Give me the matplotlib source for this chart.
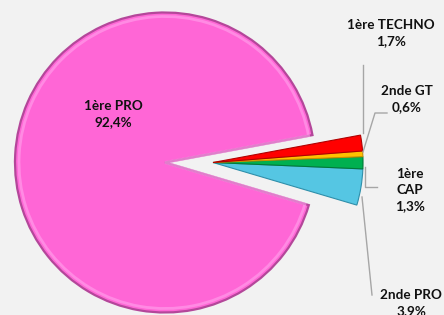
import matplotlib
matplotlib.use("Agg")
import matplotlib.pyplot as plt

categories = ["2nde PRO", "1ère CAP", "2nde GT", "1ère TECHNO", "1ère PRO"]
values = [3.9, 1.3, 0.6, 1.7, 92.4]
labels = ["2nde PRO\n3,9%", "1ère\nCAP\n1,3%", "2nde GT\n0,6%", "1ère TECHNO\n1,7%", "1ère PRO\n92,4%"]
colors = ["#55C6E3", "#00B050", "#FFC000", "#FF0000", "#FF66D6"]
edge_dark = ["#2F8FAA", "#007A38", "#C79000", "#B00000", "#B4479A"]

W, H = 444, 315
fig = plt.figure(figsize=(W / 100, H / 100), dpi=100)
fig.patch.set_facecolor("#F2F2F2")
ax = fig.add_axes([0, 0, 1, 1])

cx, cy, r = 165, 152.5, 150
shift = 48
wedges, _ = ax.pie(values, colors=colors, startangle=-16.5, counterclock=True,
                   radius=r, center=(cx, cy), frame=True,
                   wedgeprops=dict(edgecolor="white", linewidth=1.2))
# bevel highlight on the large slice
hl, _ = ax.pie(values, colors=["none"] * 5, startangle=-16.5, counterclock=True,
               radius=r - 4, center=(cx, cy), frame=True,
               wedgeprops=dict(linewidth=2.0, fill=False))
for i in range(4):
    hl[i].set_visible(False)
    wedges[i].set_center((cx + shift, cy))
    wedges[i].set_edgecolor(edge_dark[i])
    wedges[i].set_linewidth(0.8)
hl[4].set_edgecolor("#FFA3EC")
hl[4].set_alpha(0.6)
wedges[4].set_edgecolor(edge_dark[4])
wedges[4].set_linewidth(1.6)

ax.set_xlim(0, W)
ax.set_ylim(0, H)
ax.set_aspect("equal")
ax.axis("off")

font = dict(family=["Lato", "DejaVu Sans"], fontweight="bold", fontsize=9.7,
            ha="center", va="center", linespacing=1.45, color="#111111")
ax.text(113, H - 114, labels[4], **font)
ax.text(391, H - 33, labels[3], **font)
ax.text(407, H - 99, labels[2], **font)
ax.text(410, H - 190, labels[1], **font)
ax.text(411, H - 303, labels[0], **font)

lc = dict(color="#A6A6A6", linewidth=1)
ax.plot([363, 363], [H - 65, H - 133], **lc)
ax.plot([387, 375, 363], [H - 113, H - 113, H - 152], **lc)
ax.plot([365, 365, 377], [H - 167, H - 187, H - 187], **lc)
ax.plot([362, 372], [H - 197, H - 295], **lc)

fig.savefig("out.png", dpi=100, facecolor=fig.get_facecolor())
